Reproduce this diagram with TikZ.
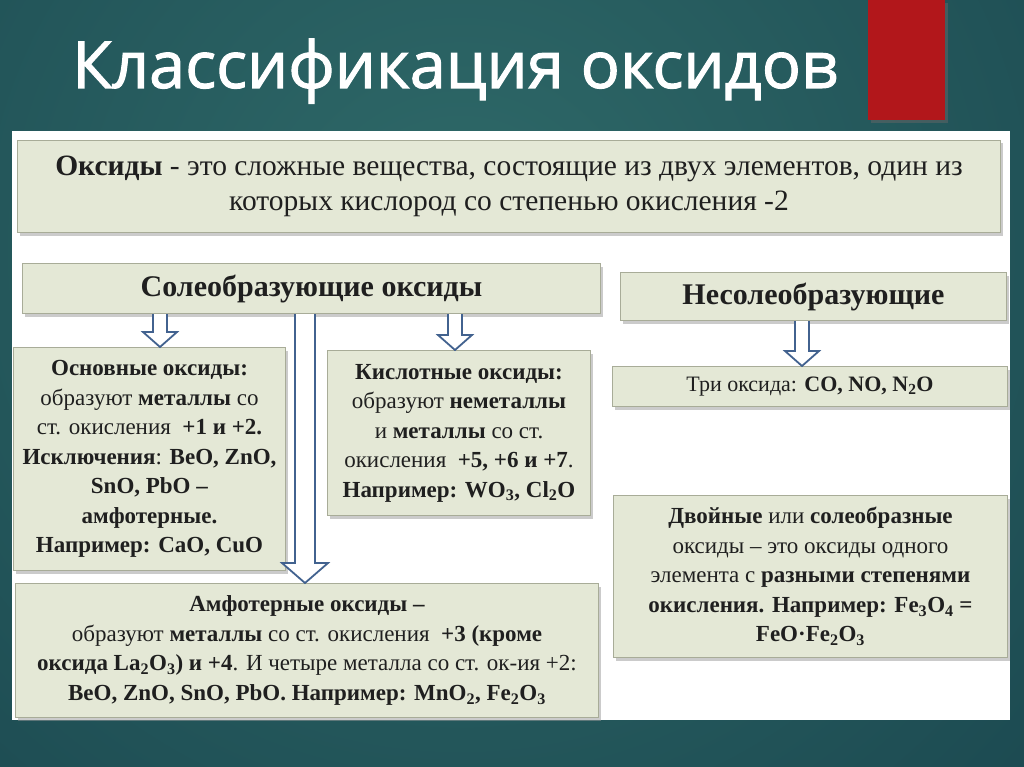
\documentclass[tikz,border=0pt]{standalone}
\usepackage{fontspec}
\setmainfont{Liberation Serif}
\newfontfamily\titlefont{Open Sans}[UprightFeatures={FakeBold=1.6}]
\usetikzlibrary{calc,shadows}
\definecolor{bgdark}{HTML}{133B46}
\definecolor{bglight}{HTML}{2F6A69}
\definecolor{slidered}{HTML}{B2171B}
\definecolor{boxbg}{HTML}{E4E8D6}
\definecolor{boxrule}{HTML}{A8AC98}
\definecolor{arrowblue}{HTML}{42628F}
\newcommand{\boxfont}{\fontsize{23}{29.5}\selectfont}
\newcommand{\headfont}{\fontsize{30}{34}\selectfont}
% hollow block arrow: from, to, half shaft, half head, head length
\newcommand{\hollowdown}[5]{%
  \draw[harrow] ($(#1)+(-#3,0)$) -- ($(#2)+(-#3,-#5)$) -- ($(#2)+(-#4,-#5)$)
    -- (#2) -- ($(#2)+(#4,-#5)$) -- ($(#2)+(#3,-#5)$) -- ($(#1)+(#3,0)$);}

\begin{document}
\begin{tikzpicture}[x=1pt,y=-1pt,
  box/.style={draw=boxrule,fill=boxbg,line width=1pt,anchor=north west,
              align=center,inner sep=2pt,text=black!88,font=\boxfont,
              drop shadow={shadow xshift=2pt,shadow yshift=-3pt,fill=black!40}},
  harrow/.style={draw=arrowblue,fill=white,line width=1.8pt,line join=miter}
]
\useasboundingbox (0,0) rectangle (1024,767);
% background
\begin{scope}
  \clip (0,0) rectangle (1024,767);
  \fill[bgdark] (0,0) rectangle (1024,767);
  \shade[inner color=bglight,outer color=bgdark] (460,250) circle (1150);
\end{scope}
\fill[black!60,opacity=.5] (871,3) rectangle (948,123);
\fill[slidered] (868,0) rectangle (945,120);
\node[anchor=base west,text=white,inner sep=0pt,
      font=\titlefont\fontsize{65}{70}\selectfont] (title) at (72,88) {Классификация оксидов};
\fill[white] (12,131) rectangle (1010,720);

% boxes
\node[box,minimum width=983pt,minimum height=92pt,font=\fontsize{29.5}{35}\selectfont]
  (def) at (17,140) {\textbf{Оксиды} - это сложные вещества, состоящие из двух элементов, один из\\
  которых кислород со степенью окисления -2};
\node[box,minimum width=578pt,minimum height=50pt,font=\headfont]
  (sol) at (22,263) {\textbf{Солеобразующие оксиды}};
\node[box,minimum width=386pt,minimum height=48pt,font=\headfont]
  (nesol) at (620,272) {\textbf{Несолеобразующие}};
\node[box,minimum width=395pt,minimum height=40pt,font=\fontsize{22}{28}\selectfont]
  (tri) at (612,366) {Три оксида: \textbf{CO, NO, N\textsubscript{2}O}};
\node[box,minimum width=272pt,minimum height=223pt]
  (osn) at (13,347) {\textbf{Основные оксиды:}\\
  образуют \textbf{металлы} со\\
  ст. окисления \ \textbf{+1 и +2.}\\
  \textbf{Исключения}: \textbf{BeO, ZnO,}\\
  \textbf{SnO, PbO –}\\
  \textbf{амфотерные.}\\
  \textbf{Например: CaO, CuO}};
\node[box,minimum width=263pt,minimum height=165pt]
  (kisl) at (327,350) {\textbf{Кислотные оксиды:}\\
  образуют \textbf{неметаллы}\\
  и \textbf{металлы} со ст.\\
  окисления \ \textbf{+5, +6 и +7}.\\
  \textbf{Например: WO\textsubscript{3}, Cl\textsubscript{2}O}};
\node[box,minimum width=583pt,minimum height=134pt]
  (amf) at (15,583) {\textbf{Амфотерные оксиды –}\\
  образуют \textbf{металлы} со ст. окисления \ \textbf{+3 (кроме}\\
  \textbf{оксида La\textsubscript{2}O\textsubscript{3}) и +4}. И четыре металла со ст. ок-ия +2:\\
  \textbf{BeO, ZnO, SnO, PbO. Например: MnO\textsubscript{2}, Fe\textsubscript{2}O\textsubscript{3}}};
\node[box,minimum width=394pt,minimum height=162pt]
  (dvoi) at (613,495) {\textbf{Двойные} или \textbf{солеобразные}\\
  оксиды – это оксиды одного\\
  элемента с \textbf{разными степенями}\\
  \textbf{окисления. Например: Fe\textsubscript{3}O\textsubscript{4} =}\\
  \textbf{FeO·Fe\textsubscript{2}O\textsubscript{3}}};

% arrows
\coordinate (xa) at (160,0);
\coordinate (xb) at (305,0);
\coordinate (xc) at (455,0);
\coordinate (xd) at (802,0);
\hollowdown{sol.south -| xa}{osn.north -| xa}{7}{17}{15}
\hollowdown{sol.south -| xb}{amf.north -| xb}{10}{23}{20}
\hollowdown{sol.south -| xc}{kisl.north -| xc}{7}{17}{15}
\hollowdown{nesol.south -| xd}{tri.north -| xd}{7}{17}{15}
\end{tikzpicture}
\end{document}
